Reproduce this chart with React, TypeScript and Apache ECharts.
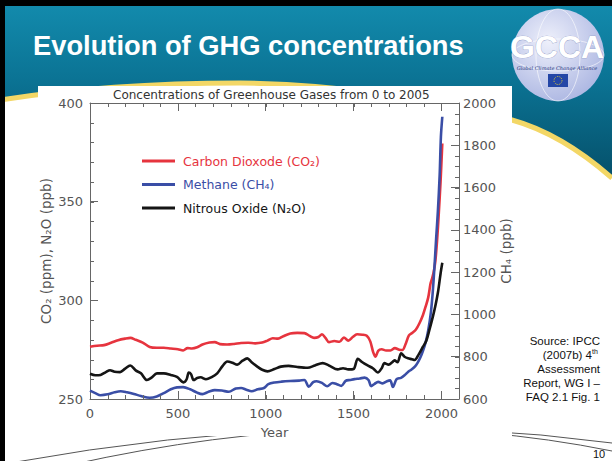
import React, { useEffect, useRef } from "react";
import * as echarts from "echarts";

// ---------- texts ----------
const slideTitle = "Evolution of GHG concentrations";
const chartTitle = "Concentrations of Greenhouse Gases from 0 to 2005";
const seriesNames = ["Carbon Dioxode (CO₂)", "Methane (CH₄)", "Nitrous Oxide (N₂O)"];
const seriesColors = ["#e6343e", "#3a4ea6", "#151515"];
const leftAxisName = "CO₂ (ppm), N₂O (ppb)";
const rightAxisName = "CH₄ (ppb)";
const xAxisName = "Year";
const sourceLines = ["Source: IPCC", "(2007b) 4", "Assessment", "Report, WG I –", "FAQ 2.1 Fig. 1"];
const pageNumber = "10";

// ---------- data ----------
const co2Years = [0, 40, 80, 120, 160, 200, 230, 260, 300, 340, 380, 420, 460, 500, 530, 555, 580, 610, 640, 680, 710, 740, 780, 820, 860, 900, 940, 980, 1010, 1040, 1070, 1100, 1140, 1180, 1220, 1250, 1275, 1300, 1320, 1340, 1360, 1390, 1420, 1445, 1470, 1495, 1520, 1550, 1575, 1595, 1612, 1625, 1640, 1660, 1685, 1710, 1735, 1760, 1778, 1795, 1815, 1835, 1855, 1875, 1895, 1910, 1925, 1938, 1945, 1955, 1965, 1975, 1985, 1995, 2005];
const co2Values = [276.5, 277, 277.3, 278.5, 279.8, 280.6, 281, 280, 278.6, 276.4, 276, 276, 275.6, 275.2, 274.6, 275.8, 275.6, 276.2, 277.6, 278.6, 278.8, 277.8, 277.6, 277.9, 278.4, 278.5, 278.2, 278.6, 279.6, 280.8, 280.6, 281.8, 283.2, 283.5, 283.4, 282, 281, 281.4, 282.8, 281, 278.8, 279.4, 279, 281.2, 279.6, 281.4, 282.8, 282.6, 282, 279.2, 273.6, 271.4, 274.4, 275.2, 274.6, 274.6, 275.8, 275, 274.8, 277.6, 282.2, 283.6, 285.2, 288.4, 292.6, 296.8, 301.5, 308.5, 310.5, 314, 319.5, 330, 344, 360, 379.5];

const ch4Years = [0, 30, 60, 100, 140, 175, 210, 250, 290, 340, 380, 420, 460, 495, 530, 570, 610, 640, 675, 710, 750, 790, 830, 860, 890, 920, 955, 990, 1015, 1050, 1090, 1140, 1190, 1220, 1245, 1270, 1290, 1320, 1350, 1380, 1405, 1430, 1455, 1480, 1505, 1535, 1562, 1585, 1600, 1620, 1640, 1665, 1690, 1708, 1724, 1745, 1770, 1790, 1810, 1830, 1850, 1865, 1880, 1895, 1910, 1925, 1940, 1950, 1960, 1970, 1980, 1990, 1997, 2005];
const ch4Values = [640, 628, 618, 622, 632, 637, 632, 624, 614, 606, 612, 628, 646, 655, 656, 646, 630, 623, 634, 642, 640, 634, 650, 652, 644, 637, 646, 652, 670, 678, 682, 685, 687, 690, 658, 680, 684, 676, 660, 676, 670, 662, 686, 690, 694, 697, 701, 690, 661, 672, 681, 674, 684, 688, 657, 694, 700, 712, 728, 740, 754, 772, 796, 828, 868, 925, 1010, 1100, 1220, 1360, 1490, 1660, 1840, 1935];

const n2oYears = [0, 30, 60, 90, 114, 140, 171, 200, 229, 260, 290, 324, 350, 381, 420, 460, 495, 533, 550, 562, 575, 590, 610, 630, 660, 690, 724, 755, 781, 810, 838, 868, 895, 920, 952, 980, 1010, 1050, 1086, 1130, 1180, 1238, 1280, 1324, 1360, 1410, 1440, 1470, 1500, 1524, 1550, 1580, 1610, 1638, 1660, 1676, 1700, 1720, 1733, 1750, 1771, 1790, 1810, 1830, 1848, 1870, 1895, 1914, 1930, 1952, 1965, 1981, 1995, 2005];
const n2oValues = [262.8, 262, 262.2, 263.6, 264.6, 263.8, 263.6, 265.4, 267, 264.5, 263, 259.6, 260.8, 263, 263, 262.2, 261.2, 258.4, 260, 263.4, 262.6, 259.6, 260.6, 261, 260, 261, 263, 266.8, 269, 268.4, 267.4, 269.4, 270.6, 268.6, 266.4, 264.8, 264, 265.2, 266.4, 266.8, 266.2, 265.8, 267, 268.2, 267, 265, 265.6, 265, 265.2, 270.4, 268.6, 267, 265.6, 263.4, 265.6, 268.2, 267.4, 268.6, 269.6, 268.6, 273.2, 271.4, 270.6, 270.2, 269.8, 272.5, 276.5, 279.5, 284.5, 292, 297, 304.5, 313.5, 319];

// ---------- axis scales ----------
const xMin = 0, xMax = 2100, xMajor = 500, xMinorStep = 100;
const leftMin = 250, leftMax = 400, leftMajor = 50, leftMinorStep = 10;
const rightMin = 600, rightMax = 2000, rightMajor = 200, rightMinorStep = 50;

const steps = (a: number, b: number, s: number) => {
  const out: number[] = [];
  for (let v = a + s; v < b - 1e-9; v += s) out.push(v);
  return out;
};
const xMinorTicks = steps(xMin, 2000 + xMinorStep, xMinorStep);
const leftMinorTicks = steps(leftMin, leftMax, leftMinorStep);
const rightMinorTicks = steps(rightMin, rightMax, rightMinorStep);

// ---------- decorative shapes ----------
const HEADER_D = "M0 0 L612 0 L612 178 C580 150 548 130 512 120 C440 100 340 84 240 83 C150 83 70 89 0 100 Z";
const STRIPE_D = "M612 178 C580 150 548 130 512 120 C440 100 340 84 240 83 C150 83 70 89 0 100";
echarts.graphic.registerShape("slideHeader", echarts.graphic.extendPath(HEADER_D, {}));
echarts.graphic.registerShape("slideStripe", echarts.graphic.extendPath(STRIPE_D, {}));

const zip = (xs: number[], ys: number[]) => xs.map((x, i) => [x, ys[i]]);

const FONT = "DejaVu Sans";
const AX = "#666";
const LAB = "#555";
const MINOR = 4;
const crisp = (v: number) => Math.round(v) + 0.5;

const tickLine = (x1: number, y1: number, x2: number, y2: number) => ({
  type: "line",
  shape: { x1, y1, x2, y2 },
  style: { stroke: AX, lineWidth: 1 },
});

function buildOption(): any {
  const grid = { left: 90, right: 153, top: 103, bottom: 62 };
  const tick = (len: number) => ({ show: true, inside: true, length: len, lineStyle: { color: AX, width: 1 } });
  const lineSeries = [
    { name: seriesNames[0], data: zip(co2Years, co2Values), yAxisIndex: 0, color: seriesColors[0] },
    { name: seriesNames[1], data: zip(ch4Years, ch4Values), yAxisIndex: 1, color: seriesColors[1] },
    { name: seriesNames[2], data: zip(n2oYears, n2oValues), yAxisIndex: 0, color: seriesColors[2] },
  ].map((s) => ({
    ...s,
    type: "line",
    xAxisIndex: 0,
    showSymbol: false,
    symbol: "none",
    smooth: 0.3,
    z: 2,
    lineStyle: { width: 2.6, color: s.color },
    itemStyle: { color: s.color },
  }));

  // minor ticks, placed through the axes' own scales
  const minorLeftAndX = {
    type: "custom", xAxisIndex: 0, yAxisIndex: 0, silent: true, clip: false, z: 4,
    data: [[xMin, leftMin]],
    renderItem: (_p: any, api: any) => {
      const children: any[] = [];
      const yb = api.coord([xMin, leftMin])[1];
      const yt = api.coord([xMin, leftMax])[1];
      xMinorTicks.forEach((v) => {
        const px = crisp(api.coord([v, leftMin])[0]);
        children.push(tickLine(px, yb, px, yb - MINOR));
        children.push(tickLine(px, yt, px, yt + MINOR));
      });
      const xl = api.coord([xMin, leftMin])[0];
      leftMinorTicks.forEach((v) => {
        const py = crisp(api.coord([xMin, v])[1]);
        children.push(tickLine(xl, py, xl + MINOR, py));
      });
      return { type: "group", children };
    },
  };
  const minorRight = {
    type: "custom", xAxisIndex: 0, yAxisIndex: 1, silent: true, clip: false, z: 4,
    data: [[xMax, rightMin]],
    renderItem: (_p: any, api: any) => {
      const xr = api.coord([xMax, rightMin])[0];
      return {
        type: "group",
        children: rightMinorTicks.map((v) => {
          const py = crisp(api.coord([xMax, v])[1]);
          return tickLine(xr, py, xr - MINOR, py);
        }),
      };
    },
  };

  return {
    animation: false,
    backgroundColor: "#ffffff",
    title: {
      text: chartTitle,
      left: 108,
      top: 84,
      textStyle: { fontFamily: FONT, fontSize: 12, fontWeight: "normal", color: "#333" },
    },
    grid: [{ ...grid }],
    legend: {
      orient: "vertical",
      left: 137,
      top: 149,
      itemWidth: 33,
      itemHeight: 3,
      itemGap: 9.5,
      icon: "rect",
      textStyle: { fontFamily: FONT, fontSize: 12.5, lineHeight: 14, padding: [0, 0, 0, 3] },
      data: seriesNames.map((n, i) => ({ name: n, textStyle: { color: seriesColors[i] } })),
    },
    xAxis: [
      {
        gridIndex: 0, type: "value", position: "bottom", min: xMin, max: xMax, interval: xMajor,
        axisLine: { show: true, onZero: false, lineStyle: { color: AX, width: 1 } },
        axisTick: tick(8),
        axisLabel: {
          color: LAB, fontFamily: FONT, fontSize: 13, margin: 8,
          formatter: (v: number) => (v % xMajor === 0 && v <= 2000 ? String(v) : ""),
        },
        splitLine: { show: false },
        name: xAxisName, nameLocation: "middle", nameGap: 27, nameMoveOverlap: false,
        nameTextStyle: { color: LAB, fontFamily: FONT, fontSize: 13 },
      },
      {
        gridIndex: 0, type: "value", position: "top", min: xMin, max: xMax, interval: xMajor,
        axisLine: { show: true, onZero: false, lineStyle: { color: AX, width: 1 } },
        axisTick: tick(8), axisLabel: { show: false }, splitLine: { show: false },
      },
    ],
    yAxis: [
      {
        gridIndex: 0, type: "value", position: "left", min: leftMin, max: leftMax, interval: leftMajor,
        axisLine: { show: true, onZero: false, lineStyle: { color: AX, width: 1 } },
        axisTick: tick(8),
        axisLabel: { color: LAB, fontFamily: FONT, fontSize: 13, margin: 7, formatter: (v: number) => String(v) },
        splitLine: { show: false },
        name: leftAxisName, nameLocation: "middle", nameGap: 37, nameRotate: 90, nameMoveOverlap: false,
        nameTextStyle: { color: LAB, fontFamily: FONT, fontSize: 13.5 },
      },
      {
        gridIndex: 0, type: "value", position: "right", min: rightMin, max: rightMax, interval: rightMajor,
        axisLine: { show: true, onZero: false, lineStyle: { color: AX, width: 1 } },
        axisTick: tick(8),
        axisLabel: { color: LAB, fontFamily: FONT, fontSize: 13, margin: 4, formatter: (v: number) => String(v) },
        splitLine: { show: false },
        name: rightAxisName, nameLocation: "middle", nameGap: 40, nameRotate: 90, nameMoveOverlap: false,
        nameTextStyle: { color: LAB, fontFamily: FONT, fontSize: 13.5 },
      },
    ],
    series: [...lineSeries, minorLeftAndX, minorRight],
    graphic: {
      elements: [
        { type: "rect", z: -30, silent: true, shape: { x: 0, y: 0, width: 612, height: 461 }, style: { fill: "#ffffff" } },
        {
          type: "slideHeader", z: -29, silent: true, x: 0, y: 0,
          style: {
            fill: new echarts.graphic.LinearGradient(0, 0, 0, 1, [
              { offset: 0, color: "#138cae" },
              { offset: 0.45, color: "#0b7394" },
              { offset: 1, color: "#05506a" },
            ]),
          },
        },
        { type: "slideStripe", z: -28, silent: true, x: 0, y: 0, style: { fill: "none", stroke: "#f3d766", lineWidth: 5 } },
        { type: "bezierCurve", z: -27, silent: true, shape: { x1: 10, y1: 463, x2: 612, y2: 443, cpx1: 330, cpy1: 405 }, style: { stroke: "#555", lineWidth: 1, fill: "none" } },
        { type: "bezierCurve", z: -27, silent: true, shape: { x1: 70, y1: 465, x2: 612, y2: 451, cpx1: 360, cpy1: 400 }, style: { stroke: "#555", lineWidth: 1, fill: "none" } },
        { type: "rect", z: -26, silent: true, shape: { x: 38, y: 86, width: 474, height: 350 }, style: { fill: "#ffffff" } },
        { type: "rect", z: -25, silent: true, shape: { x: 0, y: 0, width: 612, height: 6 }, style: { fill: "#000" } },
        { type: "rect", z: -25, silent: true, shape: { x: 0, y: 0, width: 5, height: 461 }, style: { fill: "#000" } },
        // logo
        {
          type: "circle", z: -24, silent: true, shape: { cx: 558, cy: 55, r: 46 },
          style: {
            fill: new echarts.graphic.RadialGradient(0.4, 0.35, 0.75, [
              { offset: 0, color: "#eef0fb" },
              { offset: 1, color: "#a7b2e0" },
            ]),
          },
        },
        { type: "ellipse", z: -23, silent: true, shape: { cx: 558, cy: 55, rx: 22, ry: 46 }, style: { fill: "none", stroke: "rgba(255,255,255,0.6)", lineWidth: 1 } },
        { type: "ellipse", z: -23, silent: true, shape: { cx: 558, cy: 55, rx: 46, ry: 16 }, style: { fill: "none", stroke: "rgba(255,255,255,0.6)", lineWidth: 1 } },
        {
          type: "text", z: -21, silent: true, x: 557, y: 47,
          style: {
            text: "GCCA", fill: "#ffffff", font: 'bold 32px "Liberation Sans"', align: "center", verticalAlign: "middle",
            stroke: "#8d96c0", lineWidth: 0.6, shadowColor: "#46517c", shadowOffsetX: 2, shadowOffsetY: 2, shadowBlur: 0,
          },
        },
        { type: "text", z: -21, silent: true, x: 557, y: 68, style: { text: "Global Climate Change Alliance", fill: "#23337a", font: 'italic 5px "DejaVu Serif"', align: "center", verticalAlign: "middle" } },
        { type: "rect", z: -21, silent: true, shape: { x: 548, y: 74, width: 20, height: 13 }, style: { fill: "#2446a6" } },
        { type: "circle", z: -20, silent: true, shape: { cx: 558, cy: 80.5, r: 4 }, style: { fill: "none", stroke: "#e6d233", lineWidth: 1, lineDash: [1, 1.2] } },
        // slide title
        { type: "text", z: -20, silent: true, x: 33, y: 45, style: { text: slideTitle, fill: "#ffffff", font: 'bold 27.3px "Liberation Sans"', align: "left", verticalAlign: "middle" } },
        // source
        ...sourceLines.map((t, i) => ({
          type: "text", z: -20, silent: true, x: i === 1 ? 592 : 600, y: 341 + i * 14,
          style: { text: t, fill: "#111", font: '11.5px "Liberation Sans"', align: "right", verticalAlign: "middle" },
        })),
        { type: "text", z: -20, silent: true, x: 592, y: 351, style: { text: "th", fill: "#111", font: '7px "Liberation Sans"', align: "left", verticalAlign: "middle" } },
        { type: "text", z: -20, silent: true, x: 599, y: 454, style: { text: pageNumber, fill: "#111", font: '11px "Liberation Sans"', align: "center", verticalAlign: "middle" } },
      ],
    },
  };
}

export default function App() {
  const ref = useRef<HTMLDivElement>(null);
  useEffect(() => {
    if (!ref.current) return;
    const chart = echarts.init(ref.current, undefined, { renderer: "svg" });
    chart.setOption(buildOption());
    return () => chart.dispose();
  }, []);
  return <div ref={ref} style={{ position: "absolute", left: 0, top: 0, width: 612, height: 461 }} />;
}
